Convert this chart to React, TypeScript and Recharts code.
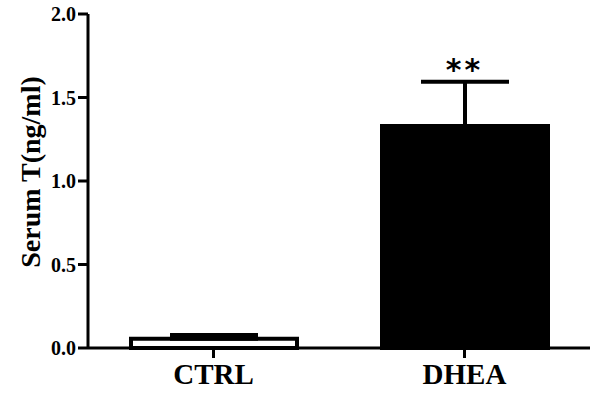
import React from 'react'
import { BarChart, Bar, XAxis, YAxis, ErrorBar, Cell, ReferenceDot } from 'recharts'

// values (ng/ml)
const groups = ['CTRL', 'DHEA']
const means = [0.055, 1.33]
const errors = [0.023, 0.264]
const marks = ['', '**']
const fills = ['#ffffff', '#000000']
const yTicks = [0, 0.5, 1.0, 1.5, 2.0]

const data = groups.map((group, i) => ({
  group,
  mean: means[i],
  // one-sided (upper) error only
  err: [0, errors[i]],
  mark: marks[i],
}))

const serif = '"Liberation Serif", "Times New Roman", serif'

const YLabel = ({ viewBox }: any) => {
  const cx = 30
  const cy = viewBox.y + viewBox.height / 2 - 9
  return (
    <text
      x={cx}
      y={cy}
      transform={`rotate(-90, ${cx}, ${cy})`}
      textAnchor="middle"
      dominantBaseline="central"
      fontFamily={serif}
      fontWeight="bold"
      fontSize={28}
      fill="#000"
    >
      Serum T(ng/ml)
    </text>
  )
}

export default function App() {
  return (
    <div style={{ position: 'absolute', left: 0, top: 0, background: '#fff' }}>
      <BarChart
        width={595}
        height={394}
        data={data}
        margin={{ top: 14, right: 5, bottom: 0, left: 0 }}
        barSize={166}
      >
        <XAxis
          dataKey="group"
          height={46}
          tickSize={10}
          tickMargin={5}
          axisLine={{ stroke: '#000', strokeWidth: 3 }}
          tickLine={{ stroke: '#000', strokeWidth: 3 }}
          tick={{ fill: '#000', fontSize: 29, fontWeight: 'bold', fontFamily: serif }}
        />
        <YAxis
          width={88}
          domain={[0, 2]}
          ticks={yTicks}
          tickFormatter={(v: number) => v.toFixed(1)}
          tickSize={10}
          tickMargin={2}
          axisLine={{ stroke: '#000', strokeWidth: 3 }}
          tickLine={{ stroke: '#000', strokeWidth: 3 }}
          tick={{ fill: '#000', fontSize: 20, fontWeight: 'bold', fontFamily: serif }}
          label={<YLabel />}
        />
        <Bar dataKey="mean" stroke="#000" strokeWidth={4} isAnimationActive={false}>
          {data.map((d, i) => (
            <Cell key={d.group} fill={fills[i]} />
          ))}
          <ErrorBar dataKey="err" width={44} strokeWidth={4} stroke="#000" isAnimationActive={false} />
        </Bar>
        {data
          .filter((d) => d.mark)
          .map((d) => (
            <ReferenceDot
              key={d.group}
              x={d.group}
              y={d.mean + d.err[1]}
              r={0}
              fill="none"
              stroke="none"
              label={{
                value: d.mark,
                position: 'top',
                offset: 2,
                fill: '#000',
                fontSize: 30,
                fontWeight: 'bold',
                letterSpacing: 3,
                fontFamily: '"DejaVu Sans", sans-serif',
              }}
            />
          ))}
      </BarChart>
    </div>
  )
}
